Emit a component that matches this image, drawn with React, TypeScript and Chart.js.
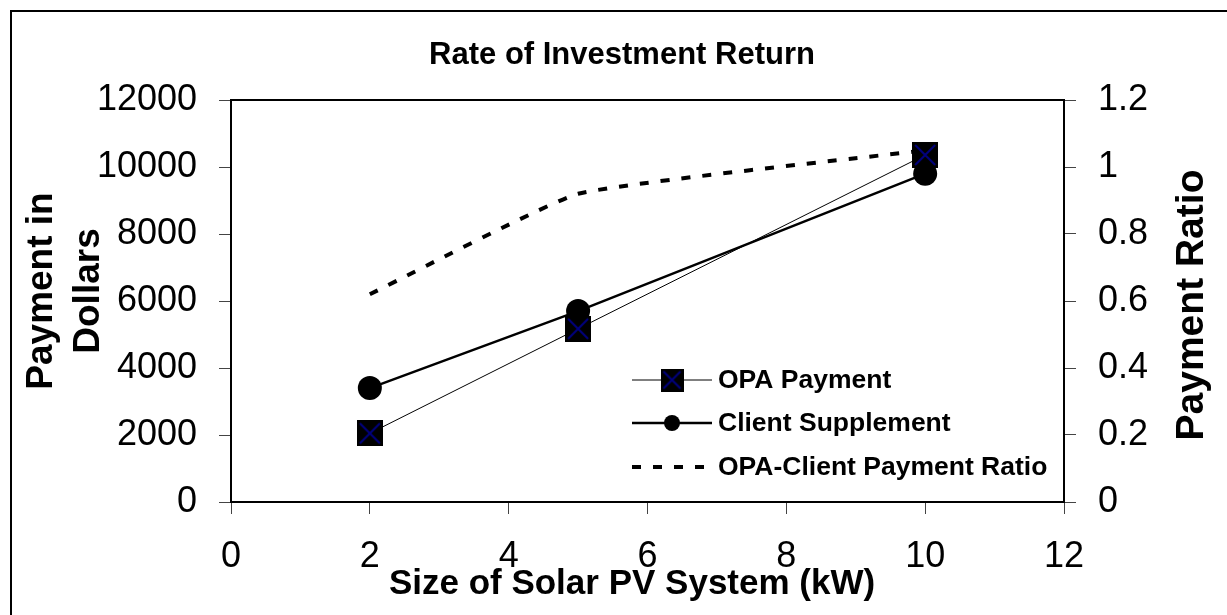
import React, { useEffect, useRef } from "react";
import { Chart, registerables } from "chart.js";

Chart.register(...registerables);

const chartTitle = "Rate of Investment Return";
const xAxisTitle = "Size of Solar PV System (kW)";
const yLeftTitle = ["Payment in", "Dollars"];
const yRightTitle = "Payment Ratio";

const sizesKW = [2, 5, 10];
const opaPayment = [2050, 5170, 10360];
const clientSupplement = [3400, 5700, 9800];
const paymentRatio = [0.62, 0.92, 1.05];

const seriesNames = ["OPA Payment", "Client Supplement", "OPA-Client Payment Ratio"];

const xTicks = [0, 2, 4, 6, 8, 10, 12];
const yLeftTicks = [0, 2000, 4000, 6000, 8000, 10000, 12000];
const yRightTicks = [0, 0.2, 0.4, 0.6, 0.8, 1, 1.2];

const FONT = "'Liberation Sans', Arial, sans-serif";

function makeSquareX(size: number): HTMLCanvasElement {
  const c = document.createElement("canvas");
  c.width = size;
  c.height = size;
  const g = c.getContext("2d")!;
  g.fillStyle = "#000000";
  g.fillRect(0, 0, size, size);
  g.strokeStyle = "#000080";
  g.lineWidth = 2;
  const m = 3;
  g.beginPath();
  g.moveTo(m, m);
  g.lineTo(size - m, size - m);
  g.moveTo(size - m, m);
  g.lineTo(m, size - m);
  g.stroke();
  return c;
}

export default function App() {
  const ref = useRef<HTMLCanvasElement | null>(null);

  useEffect(() => {
    const canvas = ref.current;
    if (!canvas) return;
    const squareMarker = makeSquareX(26);
    const legendSquare = makeSquareX(23);

    const framePlugin = {
      id: "framePlugin",
      beforeDraw(chart: any) {
        const ctx = chart.ctx;
        ctx.save();
        ctx.fillStyle = "#ffffff";
        ctx.fillRect(0, 0, chart.width, chart.height);
        ctx.strokeStyle = "#000000";
        ctx.lineWidth = 2;
        ctx.strokeRect(11, 11, chart.width + 40, chart.height + 40);
        ctx.restore();
      },
      afterDatasetsDraw(chart: any) {
        const ctx = chart.ctx;
        const a = chart.chartArea;
        ctx.save();
        ctx.strokeStyle = "#000000";
        ctx.lineWidth = 2;
        ctx.strokeRect(a.left, a.top, a.right - a.left, a.bottom - a.top);

        ctx.fillStyle = "#000000";
        ctx.textAlign = "center";
        ctx.textBaseline = "middle";
        // chart title
        ctx.font = `bold 31px ${FONT}`;
        ctx.fillText(chartTitle, 622, 55);
        // x axis title
        ctx.font = `bold 35px ${FONT}`;
        ctx.fillText(xAxisTitle, 632, 584);
        // left axis title (two lines, rotated)
        ctx.save();
        ctx.translate(0, 291);
        ctx.rotate(-Math.PI / 2);
        ctx.font = `bold 37px ${FONT}`;
        ctx.fillText(yLeftTitle[0], 0, 42);
        ctx.fillText(yLeftTitle[1], 0, 89);
        ctx.restore();
        // right axis title
        ctx.save();
        ctx.translate(1192, 305);
        ctx.rotate(-Math.PI / 2);
        ctx.font = `bold 39px ${FONT}`;
        ctx.fillText(yRightTitle, 0, 0);
        ctx.restore();

        // legend
        const rows = [380, 423, 467];
        const x0 = 632;
        const x1 = 712;
        ctx.font = `bold 26.5px ${FONT}`;
        ctx.textAlign = "left";
        rows.forEach((y, i) => {
          ctx.strokeStyle = "#000000";
          if (i === 0) {
            ctx.lineWidth = 1;
            ctx.setLineDash([]);
          } else if (i === 1) {
            ctx.lineWidth = 2.5;
            ctx.setLineDash([]);
          } else {
            ctx.lineWidth = 4;
            ctx.setLineDash([9, 12]);
          }
          ctx.beginPath();
          ctx.moveTo(x0, y);
          ctx.lineTo(x1, y);
          ctx.stroke();
          ctx.setLineDash([]);
          const cx = (x0 + x1) / 2;
          if (i === 0) {
            ctx.drawImage(legendSquare, cx - 11.5, y - 11.5);
          } else if (i === 1) {
            ctx.fillStyle = "#000000";
            ctx.beginPath();
            ctx.arc(cx, y, 8, 0, Math.PI * 2);
            ctx.fill();
          }
          ctx.fillStyle = "#000000";
          ctx.fillText(seriesNames[i], 718, y + 1);
        });
        ctx.restore();
      },
    };

    const tickFont = { family: FONT, size: 36 };

    const chart = new Chart(canvas, {
      type: "line",
      data: {
        datasets: [
          {
            label: seriesNames[0],
            data: sizesKW.map((x, i) => ({ x, y: opaPayment[i] })),
            borderColor: "#000000",
            borderWidth: 1,
            pointStyle: squareMarker as any,
            pointRadius: 13,
            yAxisID: "y",
            order: 1,
          },
          {
            label: seriesNames[1],
            data: sizesKW.map((x, i) => ({ x, y: clientSupplement[i] })),
            borderColor: "#000000",
            backgroundColor: "#000000",
            borderWidth: 2.5,
            pointStyle: "circle",
            pointRadius: 12,
            pointBorderWidth: 0,
            pointBackgroundColor: "#000000",
            yAxisID: "y",
            order: 2,
          },
          {
            label: seriesNames[2],
            data: sizesKW.map((x, i) => ({ x, y: paymentRatio[i] })),
            borderColor: "#000000",
            borderWidth: 4,
            borderDash: [9, 12],
            pointRadius: 0,
            tension: 0.12,
            yAxisID: "y1",
            order: 3,
          },
        ],
      },
      options: {
        responsive: false,
        animation: false,
        layout: { padding: { top: 100, left: 0, right: 0, bottom: 0 } },
        plugins: {
          legend: { display: false },
          title: { display: false },
          tooltip: { enabled: false },
        },
        scales: {
          x: {
            type: "linear",
            position: "bottom",
            min: 0,
            max: 12,
            afterBuildTicks: (s: any) => {
              s.ticks = xTicks.map((v) => ({ value: v }));
            },
            afterFit: (s: any) => {
              s.height = 113;
            },
            grid: {
              drawOnChartArea: false,
              drawTicks: true,
              tickLength: 12,
              color: "#444444",
            },
            border: { display: true, color: "#000000", width: 2 },
            ticks: {
              font: tickFont,
              color: "#000000",
              padding: 21,
              maxRotation: 0,
              callback: (v: any) => String(v),
            },
            title: { display: false },
          },
          y: {
            type: "linear",
            position: "left",
            min: 0,
            max: 12000,
            afterBuildTicks: (s: any) => {
              s.ticks = yLeftTicks.map((v) => ({ value: v }));
            },
            afterFit: (s: any) => {
              s.width = 231;
            },
            grid: {
              drawOnChartArea: false,
              drawTicks: true,
              tickLength: 12,
              color: "#444444",
            },
            border: { display: true, color: "#000000", width: 2 },
            ticks: {
              font: tickFont,
              color: "#000000",
              padding: 22,
              callback: (v: any) => String(v),
            },
            title: { display: false },
          },
          y1: {
            type: "linear",
            position: "right",
            min: 0,
            max: 1.2,
            afterBuildTicks: (s: any) => {
              s.ticks = yRightTicks.map((v) => ({ value: v }));
            },
            afterFit: (s: any) => {
              s.width = 163;
            },
            grid: {
              drawOnChartArea: false,
              drawTicks: true,
              tickLength: 12,
              color: "#444444",
            },
            border: { display: true, color: "#000000", width: 2 },
            ticks: {
              font: tickFont,
              color: "#000000",
              padding: 22,
              callback: (v: any) => String(Math.round(Number(v) * 10) / 10),
            },
            title: { display: false },
          },
        },
      },
      plugins: [framePlugin],
    });

    return () => {
      chart.destroy();
    };
  }, []);

  return (
    <div style={{ position: "fixed", left: 0, top: 0, width: 1227, height: 615, background: "#fff" }}>
      <canvas ref={ref} width={1227} height={615} style={{ display: "block", width: 1227, height: 615 }} />
    </div>
  );
}
